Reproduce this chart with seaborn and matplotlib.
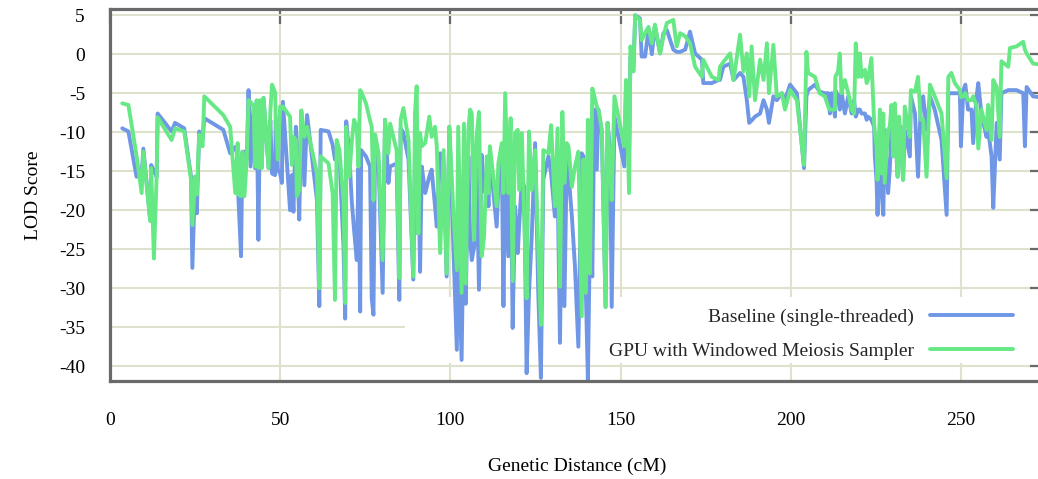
import matplotlib
matplotlib.use("Agg")
import matplotlib.pyplot as plt
import seaborn as sns
import pandas as pd
from matplotlib.patches import Rectangle

# ---- data ----
cm = [3.6, 5.4, 7.8, 9.3, 9.8, 11.8, 12.1, 12.9, 13.7, 14.0, 18.1, 19.1, 21.8, 23.8, 24.2, 25.0, 25.5,
      26.2, 27.2, 27.7, 33.3, 35.3, 36.8, 37.5, 37.7, 38.5, 38.9, 39.5, 40.2, 40.7, 41.3, 42.2, 42.6,
      43.1, 43.6, 44.1, 44.6, 45.1, 46.6, 47.1, 47.6, 48.5, 48.7, 49.3, 50.0, 50.5, 50.8, 52.9, 53.4,
      53.9, 54.6, 54.9, 55.6, 56.2, 57.1, 57.9, 60.8,
      61.5, 61.9, 64.2, 65.4, 66.1, 66.6, 67.4, 68.6, 69.1, 69.4, 70.3, 71.0, 71.7, 72.5, 73.0, 73.5,
      73.8, 75.2, 76.4, 76.9, 77.4, 77.9, 78.9, 80.1, 80.8, 81.8, 82.3, 84.2, 85.0, 85.4, 86.2, 87.7,
      89.1, 89.6, 90.1, 90.6, 91.1, 91.6, 92.6, 93.8, 94.5, 95.5, 96.0, 97.0, 98.0, 98.9, 99.7, 100.9,
      101.9,
      102.3, 103.3, 104.0, 104.5, 105.3, 105.8, 106.3, 107.0, 107.7, 108.4, 109.2, 109.9, 110.7, 111.2,
      111.6, 113.6, 114.1, 115.1, 115.6, 116.1, 117.0, 117.7, 118.3, 119.0, 119.8, 120.2, 121.0, 121.7,
      122.4, 123.1, 123.9, 124.9, 125.8, 126.6, 127.3, 128.8, 129.6, 130.7, 131.5, 132.2, 132.9, 133.5,
      134.2,
      134.7, 135.7, 136.6, 137.6, 138.6, 139.1, 139.8, 140.4, 141.0, 141.7, 142.3, 143.0, 143.5, 144.5,
      145.6, 146.2, 146.9, 147.4, 148.2, 151.1, 151.6, 152.5, 152.9, 153.8, 154.3, 155.7, 156.2, 157.2,
      158.2, 159.2, 160.1, 161.6, 162.6, 163.6, 165.5, 166.5, 167.5, 169.0, 170.4, 171.9, 173.9, 174.3,
      176.8, 178.8, 179.2, 180.2, 182.2, 183.2, 185.1, 186.1, 187.1, 187.8, 188.5, 189.5, 191.0, 192.0,
      193.0, 193.6, 194.9, 195.9, 197.4, 198.3, 199.8, 201.8,
      203.9, 204.6, 205.1, 207.1, 208.5, 210.0, 211.0, 211.5, 212.0, 213.0, 213.1, 213.9, 214.4, 214.9,
      215.9, 216.9, 217.9, 218.6, 219.1, 219.8, 220.3, 220.8, 221.8, 222.3, 222.7, 223.7, 224.5, 224.7,
      225.2, 225.5, 226.2, 226.7, 227.2, 227.6, 228.6, 229.1, 229.6, 230.1, 230.6, 231.4, 231.8, 232.3,
      233.0, 233.5, 235.0, 235.3, 236.5, 237.4, 238.2, 238.9, 239.9, 240.9, 242.3, 244.3, 245.8, 246.3,
      247.2, 248.2, 249.7, 250.0, 250.7, 251.3, 252.1, 253.1, 253.6, 254.6, 255.1, 256.0, 257.5, 258.0,
      259.0, 259.5, 260.5, 261.4, 261.9, 263.9, 264.4, 266.3, 268.3, 268.8, 269.3, 271.2, 274.7]

baseline = [-9.5, -9.9, -15.7, -15.5, -12.1, -21.2, -14.2, -15.0, -15.7, -7.6, -9.9, -8.8, -9.5, -15.7,
            -27.4, -15.7, -20.4, -9.9, -11.0, -8.2, -9.7, -12.7, -11.9, -13.0, -18.2, -25.9, -12.5, -12.5,
            -13.3, -4.6, -14.4, -6.7, -14.6, -6.0, -23.8, -6.0, -14.4, -5.6, -14.6, -8.5, -15.3, -15.5,
            -8.4, -14.8, -15.3, -16.5, -6.1, -20.0, -15.5, -20.2, -9.3, -12.0, -21.2, -7.4, -16.8, -7.8,
            -18.7,
            -32.3, -9.7, -9.9, -11.6, -13.5, -12.1, -13.1, -24.7, -33.9, -8.6, -12.7, -18.7, -22.5, -26.4,
            -14.6, -33.0, -12.3, -13.1, -14.4, -31.3, -33.4, -10.8, -14.0, -30.6, -8.4, -16.5, -14.4,
            -14.0, -31.5, -9.5, -10.1, -13.5, -28.9, -13.5, -22.9, -13.5, -27.9, -14.4, -17.8, -15.7,
            -14.8, -19.5, -22.1, -12.7, -14.0, -28.5, -9.3, -24.7, -37.9,
            -23.4, -39.2, -18.2, -32.0, -13.1, -23.8, -26.4, -24.7, -13.1, -30.2, -12.9, -17.6, -15.3,
            -19.5, -13.1, -22.1, -17.0, -13.1, -32.3, -12.7, -25.9, -12.7, -35.1, -19.5, -25.5, -22.1,
            -16.0, -17.0, -40.9, -30.6, -23.4, -11.4, -30.2, -41.5, -16.1, -13.1, -15.3, -20.8, -16.1,
            -37.0, -13.1, -32.3, -13.1,
            -15.3, -20.8, -27.2, -37.5, -12.7, -13.1, -30.2, -41.8, -22.9, -28.5, -7.1, -14.8, -7.1,
            -10.1, -32.4, -8.8, -12.3, -32.4, -8.0, -14.4, -4.2, -13.0, -0.4, -1.6, 5.0, 4.6, -0.3, -0.3,
            3.1, 0.0, 3.6, 0.1, 2.7, 3.1, 0.6, 0.3, 0.3, 0.6, 2.9, 0.1, -0.7, -3.7, -3.7, -3.3, -3.3,
            -1.6, -1.2, -3.3, -2.4, -2.9, -5.9, -8.8, -8.5, -8.0, -7.6, -5.9, -7.1, -8.8, -5.4, -5.9,
            -5.0, -5.9, -3.9, -5.0,
            -14.6, -5.4, -4.6, -3.9, -4.8, -5.0, -5.0, -7.6, -5.0, -8.0, -4.6, -5.4, -7.1, -4.8, -7.6,
            -5.4, -7.6, -5.9, -8.0, -7.1, -7.1, -7.6, -7.6, -8.4, -8.0, -8.4, -9.3, -13.1, -16.1, -20.6,
            -9.7, -17.8, -20.6, -9.7, -17.8, -14.8, -9.3, -9.3, -9.3, -15.7, -9.7, -9.3, -16.1, -9.7,
            -13.1, -5.4, -7.6, -15.7, -6.7, -5.4, -9.7, -5.4, -7.1, -11.0, -20.6, -5.0, -5.0, -5.0, -5.0,
            -11.8, -4.6, -3.9, -7.1, -7.1, -11.4, -5.4, -3.7, -7.6, -10.6, -9.7, -13.1, -19.7, -8.8,
            -13.5, -5.0, -4.6, -4.6, -4.6, -5.0, -11.8, -4.2, -5.4, -5.6]

gpu = [-6.3, -6.5, -13.0, -17.8, -12.5, -21.4, -14.6, -26.2, -15.7, -8.1, -11.0, -9.5, -9.9, -16.1,
       -21.9, -15.7, -18.0, -10.3, -11.8, -5.4, -7.8, -9.3, -17.8, -11.4, -18.0, -18.2, -12.5, -18.2,
       -13.3, -5.9, -6.1, -6.7, -14.4, -5.9, -14.6, -5.9, -14.6, -5.6, -14.6, -7.4, -3.9, -4.9, -8.5,
       -13.5, -6.7, -7.0, -6.7, -8.0, -14.2, -10.6, -11.0, -18.2, -17.4, -7.2, -10.6, -9.3, -15.3,
       -30.0, -13.1, -14.0, -17.8, -31.5, -11.0, -12.3, -18.7, -31.9, -9.3, -15.7, -11.4, -8.4, -9.3,
       -14.4, -4.6, -4.8, -6.3, -8.5, -9.3, -18.7, -10.3, -12.7, -26.4, -8.4, -12.7, -8.9, -12.3,
       -28.7, -8.4, -6.9, -11.0, -28.5, -7.6, -4.1, -23.0, -10.1, -11.8, -11.4, -8.0, -10.6, -9.3,
       -11.8, -25.5, -12.3, -28.1, -9.3, -20.4, -27.7,
       -9.3, -30.6, -8.9, -29.4, -9.7, -7.1, -7.6, -23.8, -10.6, -7.4, -25.9, -23.4, -13.1, -17.8,
       -11.8, -19.5, -14.0, -11.4, -17.8, -5.0, -17.8, -8.2, -29.1, -10.1, -9.7, -17.4, -10.1, -21.2,
       -31.3, -9.9, -17.4, -12.3, -24.7, -34.7, -12.3, -12.7, -9.1, -19.5, -9.5, -29.8, -7.4, -16.5,
       -11.4,
       -11.8, -17.0, -14.4, -12.5, -33.6, -13.5, -30.6, -8.4, -28.1, -4.4, -5.4, -6.7, -7.1, -9.7,
       -32.4, -8.8, -14.4, -18.7, -5.4, -11.8, -3.3, -17.8, 1.0, -2.2, 5.0, 4.4, 1.8, 2.7, 3.5, 1.4,
       3.8, 0.1, 2.3, 4.0, 4.4, 1.0, 2.7, 2.3, 1.4, -1.6, -2.9, -0.7, -2.9, -3.3, -1.6, -1.0, 0.1,
       -3.3, 2.5, -2.2, 0.1, -5.4, 1.0, -5.9, -0.7, -3.3, 1.4, -5.0, 1.2, -5.4, -5.0, -7.1, -4.6,
       -5.9,
       -14.2, 0.3, -2.4, -2.9, -5.0, -5.4, -6.7, -7.1, -7.1, -7.1, -2.9, -2.2, 0.1, -5.0, -3.3, -5.0,
       -7.1, -7.6, 1.4, -2.9, 0.1, -2.9, -2.0, -3.7, -3.3, -0.5, -8.8, -10.0, -11.8, -16.1, -7.1,
       -15.3, -7.6, -16.5, -9.7, -9.3, -6.5, -13.1, -6.3, -15.7, -8.0, -10.6, -16.1, -6.7, -10.6,
       -4.6, -4.8, -2.9, -8.4, -8.4, -15.7, -3.9, -5.4, -7.6, -15.9, -2.9, -2.4, -3.7, -4.6, -5.5,
       -5.4, -5.0, -5.9, -5.9, -5.4, -6.7, -12.1, -7.1, -9.7, -6.5, -11.0, -3.3, -4.2, -10.6, -0.9,
       -1.6, 0.8, 1.0, 1.6, 0.6, 0.1, -1.2, -1.4]

series_names = ["Baseline (single-threaded)", "GPU with Windowed Meiosis Sampler"]
colors = ["#6f97e6", "#66e985"]
y_ticks = [5, 0, -5, -10, -15, -20, -25, -30, -35, -40]
x_ticks = [0, 50, 100, 150, 200, 250]

df = pd.DataFrame({
    "cM": cm * 2,
    "LOD": baseline + gpu,
    "series": [series_names[0]] * len(cm) + [series_names[1]] * len(cm),
})

sns.set_theme(style="white")
plt.rcParams["font.family"] = ["Liberation Serif", "DejaVu Serif"]
plt.rcParams["axes.unicode_minus"] = False

fig = plt.figure(figsize=(10.38, 4.79), dpi=100)
ax = fig.add_axes([110 / 1038, 98 / 479, 935 / 1038, 372 / 479])

LW = 2.8
sns.lineplot(data=df, x="cM", y="LOD", hue="series", palette=colors, sort=False,
             estimator=None, linewidth=LW, ax=ax, legend=True)

ax.set_xlim(0, 274.7)
ax.set_ylim(-41.9, 5.8)
ax.set_xticks(x_ticks)
ax.set_yticks(y_ticks)
ax.set_xticklabels([str(t) for t in x_ticks])
ax.set_yticklabels([str(t) for t in y_ticks])

grid_c = "#dde2cc"
ax.set_axisbelow(True)
ax.grid(True, color=grid_c, linewidth=1.5)

# opaque key area (hides the grid, not the data)
ax.add_patch(Rectangle((0.316, 0.048), 0.7, 0.178, transform=ax.transAxes,
                       facecolor="white", edgecolor="none", zorder=1))

spine_c = "#6a6a6a"
for s in ax.spines.values():
    s.set_visible(True)
    s.set_color(spine_c)
    s.set_linewidth(2.3)

ax.tick_params(axis="both", which="both", direction="in", length=11, width=1.6,
               color=spine_c, top=True, right=True, labelsize=14, labelcolor="black")
ax.tick_params(axis="x", pad=22)
ax.tick_params(axis="y", pad=18)

ax.set_xlabel("Genetic Distance (cM)", fontsize=14, labelpad=21, color="black")
ax.set_ylabel("LOD Score", fontsize=14, labelpad=12, color="black")

leg = ax.legend(loc="center right", bbox_to_anchor=(0.966, 0.126), frameon=False,
                markerfirst=False, fontsize=14, handlelength=4.3, handletextpad=0.8,
                labelspacing=0.86, borderpad=0, borderaxespad=0, title=None)
for line in leg.get_lines():
    line.set_linewidth(LW)

fig.savefig("out.png", dpi=100)
